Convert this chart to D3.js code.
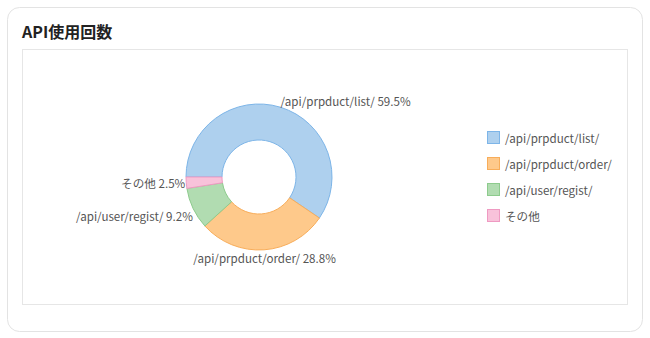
<!DOCTYPE html>
<html>
<head>
<meta charset="utf-8">
<script src="https://cdn.jsdelivr.net/npm/d3@7"></script>
<style>
  body { margin: 0; background: #fff; font-family: "Noto Sans CJK JP", "Noto Sans", sans-serif; }
</style>
</head>
<body>
<div id="chart"></div>
<script>
const categories = ["/api/prpduct/list/", "/api/prpduct/order/", "/api/user/regist/", "その他"];
const values = [59.5, 28.8, 9.2, 2.5];
const fills = ["#aed0ee", "#fec98b", "#b1dcb1", "#f8c2da"];
const strokes = ["#7db5e8", "#f8ad5a", "#8dcb8d", "#ef9ac2"];

const width = 650, height = 338;
const cx = 259, cy = 177;
const outerR = 73, innerR = 37, labelR = 80;

const svg = d3.select("#chart").append("svg")
    .attr("width", width)
    .attr("height", height);

// card
svg.append("rect")
    .attr("x", 7.5).attr("y", 7.5)
    .attr("width", 635).attr("height", 324)
    .attr("rx", 12)
    .attr("fill", "#fff")
    .attr("stroke", "#e3e3e3");

svg.append("text")
    .attr("x", 22).attr("y", 38)
    .attr("font-size", 16)
    .attr("font-weight", "bold")
    .attr("fill", "#222")
    .text("API使用回数");

svg.append("rect")
    .attr("x", 22.5).attr("y", 49.5)
    .attr("width", 605).attr("height", 255)
    .attr("fill", "#fff")
    .attr("stroke", "#e6e6e6");

const data = categories.map((c, i) => ({ name: c, value: values[i], i: i }));

const pie = d3.pie()
    .sort(null)
    .value(d => d.value)
    .startAngle(-Math.PI / 2)
    .endAngle(Math.PI * 1.5);

const arc = d3.arc().innerRadius(innerR).outerRadius(outerR);
const labelArc = d3.arc().innerRadius(labelR).outerRadius(labelR);

const g = svg.append("g").attr("transform", `translate(${cx},${cy})`);
const arcs = pie(data);

g.selectAll("path")
    .data(arcs)
    .enter().append("path")
    .attr("d", arc)
    .attr("fill", d => fills[d.data.i])
    .attr("stroke", d => strokes[d.data.i])
    .attr("stroke-width", 1);

g.selectAll("text.lbl")
    .data(arcs)
    .enter().append("text")
    .attr("class", "lbl")
    .each(function(d) {
        const p = labelArc.centroid(d);
        const s = p[0] / labelR;
        let anchor = "middle", dx = 0, dy = 1;
        if (s > 0.25) { anchor = "start"; dx = -2; dy = 0; }
        else if (s < -0.25) { anchor = "end"; dx = 6; dy = p[1] > 20 ? 4 : 0; }
        d3.select(this)
            .attr("x", p[0] + dx)
            .attr("y", p[1] + dy)
            .attr("text-anchor", anchor);
    })
    .attr("dominant-baseline", "central")
    .attr("font-size", 11.6)
    .attr("fill", "#555")
    .text(d => `${d.data.name} ${d.data.value}%`);

// legend
const legend = svg.append("g").attr("transform", "translate(487,138)");
const rowH = 26;
const items = legend.selectAll("g")
    .data(data)
    .enter().append("g")
    .attr("transform", (d, i) => `translate(0,${i * rowH})`);

items.append("rect")
    .attr("x", 0.5).attr("y", -6.5)
    .attr("width", 12).attr("height", 12)
    .attr("fill", d => fills[d.i])
    .attr("stroke", d => strokes[d.i]);

items.append("text")
    .attr("x", 18).attr("y", 0)
    .attr("dominant-baseline", "central")
    .attr("font-size", 11.6)
    .attr("fill", "#555")
    .text(d => d.name);
</script>
</body>
</html>
